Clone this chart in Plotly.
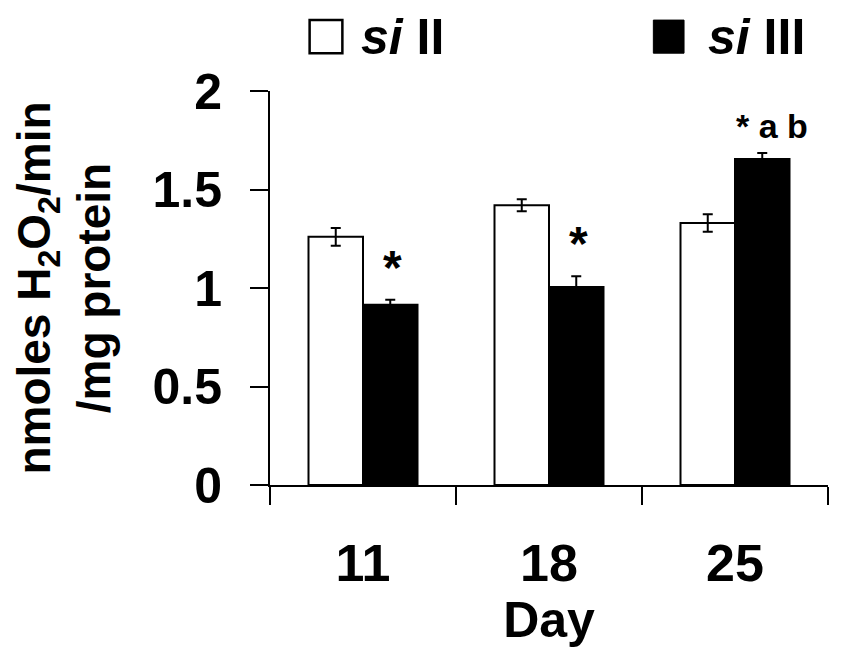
import plotly.graph_objects as go

days = ["11", "18", "25"]
si_II = [1.26, 1.42, 1.33]
si_II_err = [0.045, 0.03, 0.045]
si_III = [0.915, 1.005, 1.655]
si_III_err = [0.025, 0.055, 0.03]
sig_labels = ["*", "*", "* a b"]

FONT = "Liberation Sans, Arial, sans-serif"

fig = go.Figure()
fig.add_trace(go.Bar(
    x=days, y=si_II, name="si II",
    marker=dict(color="white", line=dict(color="black", width=2)),
    error_y=dict(type="data", array=si_II_err, color="black", thickness=2, width=5),
    showlegend=False,
))
fig.add_trace(go.Bar(
    x=days, y=si_III, name="si III",
    marker=dict(color="black", line=dict(color="black", width=2)),
    error_y=dict(type="data", array=si_III_err, color="black", thickness=2, width=5),
    showlegend=False,
))

for i, (v, e, lab) in enumerate(zip(si_III, si_III_err, sig_labels)):
    star = lab == "*"
    fig.add_annotation(
        x=i, y=v + e, xref="x", yref="y", text="<b>%s</b>" % lab,
        showarrow=False, xshift=29 if star else 37, yshift=4 if star else 6,
        yanchor="bottom", font=dict(family=FONT, size=48 if star else 34, color="black"),
    )

# legend (swatches + labels) drawn in paper coordinates
LEG_Y = 1.137
fig.add_shape(type="rect", xref="paper", yref="paper", x0=0.071, x1=0.1297, y0=1.096, y1=1.180,
              line=dict(color="black", width=2.5), fillcolor="white")
fig.add_annotation(x=0.160, y=LEG_Y, xref="paper", yref="paper", text="<b><i>si</i> II</b>",
                   showarrow=False, font=dict(family=FONT, size=50, color="black"),
                   xanchor="left", yanchor="middle")
fig.add_shape(type="rect", xref="paper", yref="paper", x0=0.687, x1=0.742, y0=1.096, y1=1.180,
              line=dict(color="black", width=1), fillcolor="black")
fig.add_annotation(x=0.782, y=LEG_Y, xref="paper", yref="paper", text="<b><i>si</i> III</b>",
                   showarrow=False, font=dict(family=FONT, size=50, color="black"),
                   xanchor="left", yanchor="middle")

fig.update_layout(
    width=841, height=658,
    margin=dict(l=257, r=21, t=83, b=181),
    paper_bgcolor="white", plot_bgcolor="white",
    barmode="group", bargap=0.414, bargroupgap=0,
    font=dict(family=FONT, color="black"),
    xaxis=dict(
        type="category", range=[-0.5, 2.5], showline=True, linecolor="black", linewidth=2,
        ticks="outside", tickson="boundaries", ticklen=18, tickwidth=2, tickcolor="black",
        tickfont=dict(size=52), tickprefix="<b>", ticksuffix="</b>", ticklabelstandoff=32,
        title=dict(text="<b>Day</b>", font=dict(size=50), standoff=0),
        showgrid=False, zeroline=False,
    ),
    yaxis=dict(
        range=[0, 2], dtick=0.5, showline=True, linecolor="black", linewidth=2,
        ticks="outside", ticklen=18, tickwidth=2, tickcolor="black",
        tickfont=dict(size=50), tickprefix="<b>", ticksuffix="</b>", ticklabelstandoff=18,
        title=dict(text="<b>nmoles H<sub>2</sub>O<sub>2</sub>/min<br>/mg protein</b>",
                   font=dict(size=46), standoff=40),
        showgrid=False, zeroline=False,
    ),
)

fig.write_html("out.html")
